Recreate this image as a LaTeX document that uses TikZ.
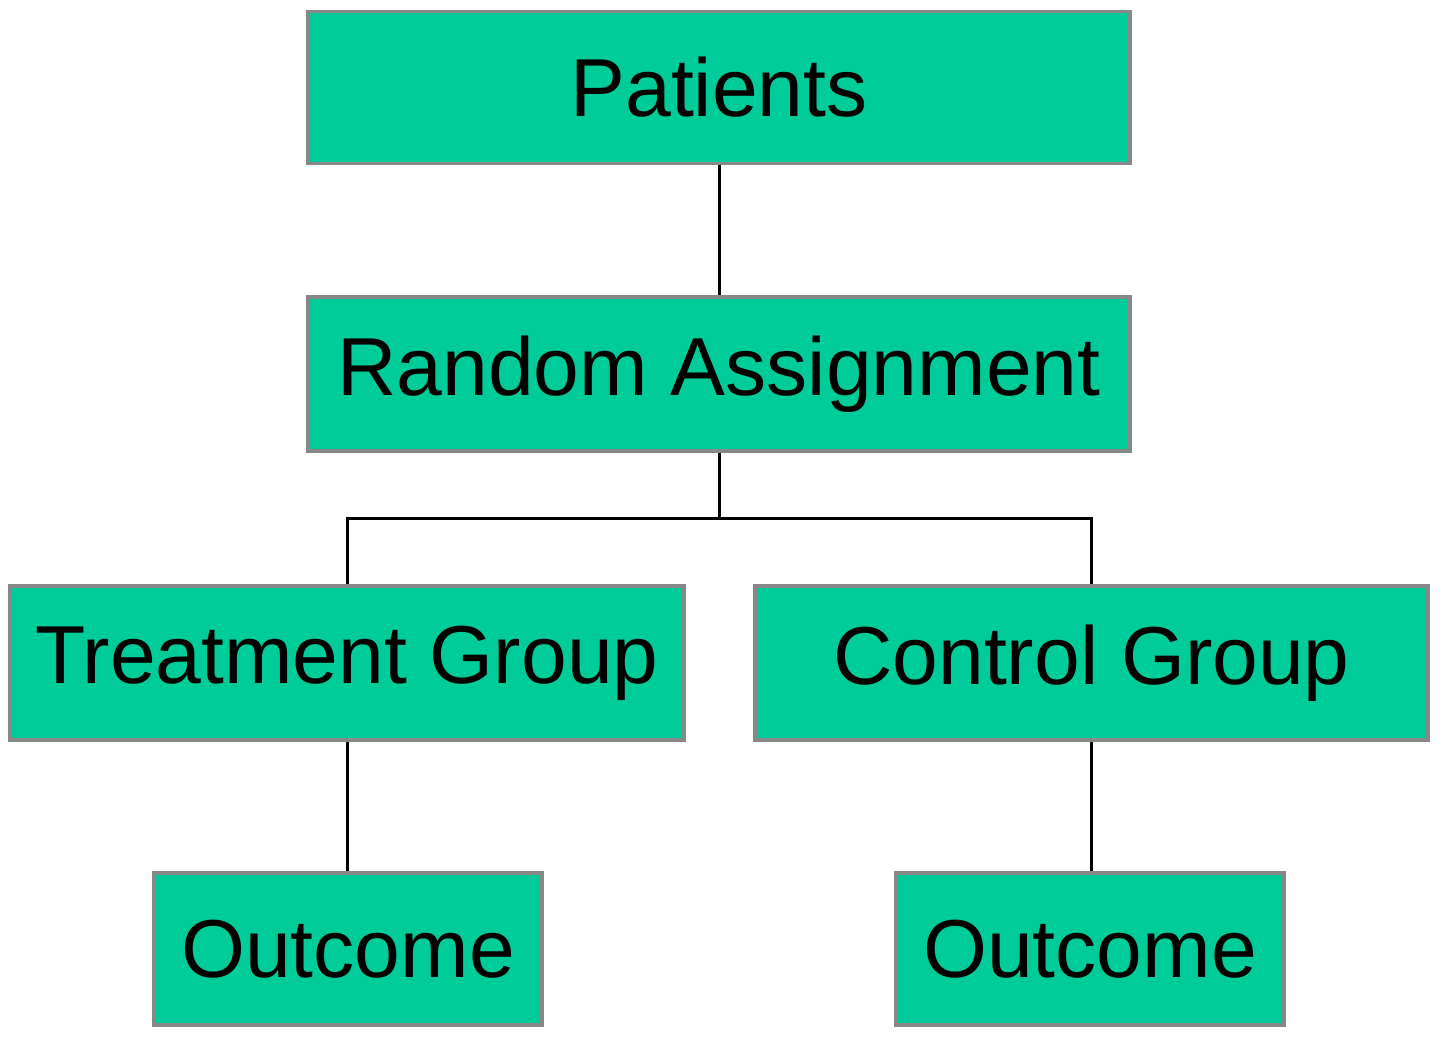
\documentclass[tikz,border=0pt]{standalone}
\usepackage{fontspec}
\setmainfont{Liberation Sans}
\usepackage{tikz}
\pgfdeclarelayer{bg}
\pgfsetlayers{bg,main}
\definecolor{boxgreen}{RGB}{0,204,153}
\definecolor{boxgray}{RGB}{136,136,136}
\tikzset{
        stage/.style={draw=boxgray, fill=boxgreen, line width=0.9pt, inner sep=0pt,
                minimum height=1.52cm, font=\fontsize{23.4}{28}\selectfont},
        link/.style={line width=0.85pt, black}
}

\begin{document}
\begin{tikzpicture}
        \useasboundingbox (0cm, 0cm) rectangle (14.41cm, -10.39cm);
        \node (patients) [stage, minimum width=8.22cm] at (7.19cm, -0.875cm) {Patients};
        \node (assign) [stage, minimum width=8.22cm, minimum height=1.54cm] at (7.19cm, -3.74cm) {Random Assignment};
        \node (treat) [stage, minimum width=6.74cm, minimum height=1.54cm] at (3.47cm, -6.63cm) {Treatment Group};
        \node (control) [stage, minimum width=6.73cm, minimum height=1.54cm] at (10.915cm, -6.63cm) {Control Group};
        \node (out1) [stage, minimum width=3.88cm] at (3.48cm, -9.49cm) {Outcome};
        \node (out2) [stage, minimum width=3.88cm] at (10.90cm, -9.49cm) {Outcome};
        \coordinate (split) at (7.19cm, -5.18cm);
        \begin{pgfonlayer}{bg}
                \draw [link] (patients) -- (assign);
                \draw [link] (assign) -- (split);
                \draw [link] (split) -| (treat.north);
                \draw [link] (split) -| (control.north);
                \draw [link] (treat) -- (treat |- out1.north);
                \draw [link] (control) -- (control |- out2.north);
        \end{pgfonlayer}
\end{tikzpicture}
\end{document}
